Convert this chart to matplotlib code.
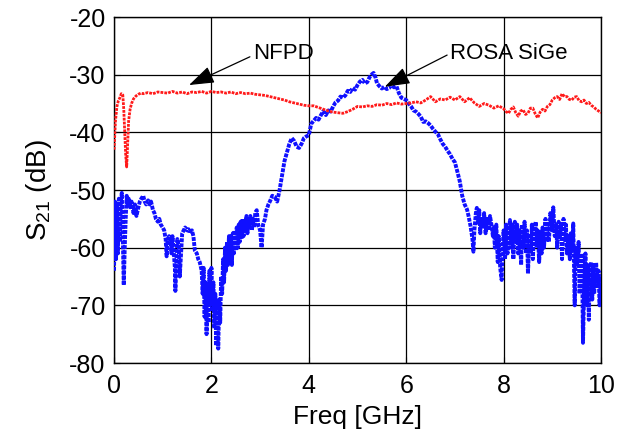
import matplotlib
matplotlib.use("Agg")
import matplotlib.pyplot as plt

plt.rcParams['font.family'] = ['Liberation Sans', 'DejaVu Sans']
plt.rcParams['mathtext.default'] = 'regular'
plt.rcParams['axes.unicode_minus'] = False

# ---- NFPD (red) ----
red_f = [0.00, 0.03, 0.06, 0.09, 0.12, 0.15, 0.18, 0.20, 0.22, 0.24, 0.26, 0.28, 0.30, 0.33, 0.36,
         0.40, 0.45, 0.50, 0.55, 0.60, 0.70, 0.80, 0.90, 1.00, 1.10, 1.20, 1.30, 1.40, 1.50, 1.60,
         1.70, 1.80, 1.90, 2.00, 2.10, 2.20, 2.30, 2.40, 2.50, 2.60, 2.70, 2.80, 2.90, 3.00, 3.10,
         3.20, 3.30, 3.40, 3.50, 3.60, 3.70, 3.80, 3.90, 4.00, 4.10, 4.20, 4.30, 4.40, 4.50, 4.60,
         4.70, 4.80, 4.90, 5.00, 5.10, 5.20, 5.30, 5.40, 5.50, 5.60, 5.70, 5.80, 5.90, 6.00, 6.10,
         6.20, 6.30, 6.40, 6.50, 6.60, 6.70, 6.80, 6.90, 7.00, 7.10, 7.20, 7.30, 7.40, 7.50, 7.60,
         7.70, 7.80, 7.90, 8.00, 8.05, 8.10, 8.15, 8.20, 8.25, 8.30, 8.35, 8.40, 8.45, 8.50, 8.55,
         8.60, 8.65, 8.70, 8.75, 8.80, 8.85, 8.90, 8.95, 9.00, 9.05, 9.10, 9.15, 9.20, 9.25, 9.30,
         9.35, 9.40, 9.45, 9.50, 9.55, 9.60, 9.65, 9.70, 9.75, 9.80, 9.85, 9.90, 9.95, 10.00]
red_db = [-43.0, -38.0, -35.5, -34.5, -34.0, -33.3, -33.5, -36.0, -40.0, -44.0, -46.0, -42.0, -38.0, -36.0, -35.0,
          -34.2, -33.7, -33.4, -33.2, -33.3, -33.1, -33.3, -33.0, -33.1, -33.2, -32.9, -33.2, -33.0, -33.3, -33.0,
          -33.1, -32.9, -33.2, -32.9, -33.1, -33.0, -33.2, -33.0, -33.3, -33.1, -33.3, -33.2, -33.4, -33.5, -33.6,
          -33.8, -34.0, -34.2, -34.4, -34.7, -34.9, -35.1, -35.3, -35.4, -35.4, -35.7, -36.0, -36.3, -36.5, -36.6,
          -36.7, -36.4, -36.0, -35.5, -35.6, -35.4, -35.5, -35.2, -35.3, -35.0, -35.2, -34.9, -35.1, -35.0, -34.9,
          -34.7, -34.9, -34.4, -33.8, -34.7, -34.2, -34.4, -33.9, -34.4, -33.8, -34.7, -34.0, -34.9, -35.5, -35.0,
          -35.3, -35.8, -35.4, -35.9, -36.4, -36.7, -36.0, -35.6, -36.6, -37.2, -36.3, -36.1, -36.9, -36.7, -35.8,
          -35.8, -36.8, -37.5, -36.5, -36.0, -36.3, -35.5, -35.2, -34.4, -34.0, -33.8, -34.3, -33.3, -33.8, -33.8,
          -34.3, -34.4, -33.9, -33.8, -34.5, -34.7, -34.4, -35.0, -34.8, -35.3, -35.6, -36.0, -36.3, -36.6]

# ---- ROSA SiGe (blue) ----
blue_f = [0.00, 0.02, 0.04, 0.06, 0.08, 0.10, 0.12, 0.14, 0.16, 0.18, 0.20, 0.22, 0.24, 0.26, 0.28,
          0.30, 0.33, 0.36, 0.40, 0.43, 0.46, 0.50, 0.53, 0.56, 0.60, 0.63, 0.66, 0.70, 0.73, 0.76,
          0.80, 0.83, 0.86, 0.90, 0.93, 0.96, 1.00, 1.03, 1.06, 1.08, 1.10, 1.13, 1.16, 1.18, 1.20,
          1.22, 1.25, 1.26, 1.28, 1.30, 1.33, 1.35, 1.37, 1.40, 1.43, 1.46, 1.50, 1.53, 1.56, 1.60,
          1.63, 1.66, 1.70, 1.73, 1.76, 1.80, 1.82, 1.84, 1.86, 1.88, 1.90, 1.92, 1.94, 1.96, 1.98,
          2.00, 2.02, 2.04, 2.06, 2.08, 2.10, 2.12, 2.14, 2.16, 2.18, 2.20, 2.22, 2.24, 2.26, 2.28,
          2.30, 2.32, 2.34, 2.36, 2.38, 2.40, 2.42, 2.44, 2.46, 2.48, 2.50, 2.52, 2.54, 2.56, 2.58,
          2.60, 2.62, 2.64, 2.66, 2.68, 2.70, 2.72, 2.74, 2.76, 2.78, 2.80, 2.83, 2.86, 2.88, 2.90,
          2.93, 2.96, 3.00, 3.03, 3.06, 3.10, 3.13, 3.17, 3.20, 3.25, 3.30,
          3.35, 3.40, 3.45, 3.50, 3.55, 3.60, 3.65, 3.70, 3.75, 3.80, 3.85, 3.90, 3.95, 4.00, 4.05,
          4.10, 4.15, 4.20, 4.25, 4.30, 4.35, 4.40, 4.45, 4.50, 4.55, 4.60, 4.65, 4.70, 4.75, 4.80,
          4.85, 4.90, 4.95, 5.00, 5.05, 5.10, 5.15, 5.20, 5.25, 5.30, 5.33, 5.37, 5.40, 5.45, 5.50,
          5.55, 5.60, 5.65, 5.70, 5.75, 5.80, 5.85, 5.90, 5.95, 6.00, 6.05, 6.10, 6.15, 6.20, 6.25,
          6.30, 6.35, 6.40, 6.45, 6.50, 6.55, 6.60, 6.65, 6.70, 6.75, 6.80, 6.85, 6.90, 6.95, 7.00,
          7.05, 7.10, 7.15, 7.20, 7.25, 7.28, 7.32, 7.36, 7.38, 7.40, 7.43, 7.45, 7.48, 7.50, 7.52,
          7.55, 7.58, 7.60, 7.63, 7.66, 7.70, 7.72, 7.75, 7.78, 7.80, 7.82, 7.85, 7.88, 7.90, 7.93,
          7.96, 7.98, 8.00, 8.03, 8.05, 8.08, 8.10, 8.13, 8.16, 8.18, 8.20, 8.23, 8.26, 8.28, 8.30,
          8.33, 8.36, 8.38, 8.40, 8.43, 8.46, 8.48, 8.50, 8.53, 8.56, 8.58, 8.60, 8.63, 8.66, 8.68,
          8.70, 8.73, 8.76, 8.78, 8.80, 8.83, 8.86, 8.88, 8.90, 8.93, 8.96, 9.00, 9.02, 9.05, 9.08,
          9.10, 9.13, 9.16, 9.18, 9.20, 9.23, 9.26, 9.28, 9.30, 9.33, 9.36, 9.38, 9.41, 9.43, 9.46,
          9.48, 9.51, 9.54, 9.56, 9.58, 9.61, 9.63, 9.66, 9.68, 9.71, 9.73, 9.75, 9.77, 9.80, 9.82,
          9.84, 9.86, 9.88, 9.90, 9.93, 9.95, 9.97, 10.00]
blue_db = [-64.0, -52.0, -62.0, -53.0, -61.0, -51.5, -59.0, -52.0, -50.5, -58.0, -66.5, -60.0, -55.0, -51.0, -52.5,
           -51.5, -53.0, -52.0, -54.0, -52.5, -54.5, -53.0, -52.0, -51.5, -51.0, -52.0, -52.5, -51.8, -52.5, -52.0,
           -53.5, -54.0, -55.0, -55.5, -55.0, -56.0, -56.5, -57.0, -58.5, -61.5, -59.0, -58.0, -59.0, -61.0, -58.0,
           -60.0, -63.5, -67.5, -62.0, -58.5, -60.0, -65.0, -62.0, -57.5, -57.0, -56.5, -57.0, -56.8, -57.5, -57.0,
           -58.0, -60.5, -61.0, -62.0, -62.5, -64.0, -68.0, -63.5, -72.0, -66.0, -75.0, -69.0, -73.0, -64.0, -70.0,
           -63.5, -71.0, -66.0, -74.0, -68.0, -77.0, -70.0, -77.5, -69.0, -73.0, -65.0, -68.0, -62.0, -66.0, -60.0,
           -64.0, -59.0, -63.0, -58.0, -62.5, -58.0, -63.0, -57.5, -61.0, -57.0, -60.5, -56.5, -60.0, -56.0, -59.0,
           -55.5, -58.5, -55.0, -58.0, -55.5, -57.0, -54.5, -57.5, -55.0, -56.5, -54.5, -57.0, -55.0, -56.5, -54.0,
           -53.5, -56.0, -57.0, -60.0, -56.0, -55.0, -53.5, -52.5, -52.0, -51.0, -51.2,
           -52.0, -50.0, -47.5, -45.0, -43.5, -42.0, -41.0, -41.5, -42.5, -42.7, -42.0, -41.0, -40.7, -40.5, -38.5,
           -38.0, -37.5, -37.8, -37.0, -36.3, -37.0, -36.2, -36.4, -35.5, -34.8, -34.5, -33.8, -34.0, -33.6, -32.8,
           -33.0, -32.3, -32.6, -31.8, -31.2, -30.9, -31.5, -31.3, -30.4, -29.9, -29.7, -30.5, -31.5, -32.0, -32.4,
           -32.1, -32.5, -32.3, -31.8, -32.2, -32.0, -33.2, -34.0, -34.2, -34.4, -35.0, -35.5, -36.2, -36.4, -36.8,
           -37.3, -38.2, -38.1, -38.4, -38.8, -39.4, -39.9, -40.3, -41.2, -42.0, -42.5, -43.2, -43.8, -44.6, -45.2,
           -46.8, -48.5, -51.0, -52.5, -53.4, -54.5, -56.2, -58.5, -60.7, -57.0, -54.0, -53.1, -56.0, -53.5, -57.5,
           -55.0, -56.5, -54.0, -57.5, -55.0, -57.0, -54.5, -56.0, -58.0, -56.5, -60.0, -56.0, -62.5, -58.0, -63.5,
           -65.6, -60.0, -57.0, -62.0, -56.0, -61.0, -58.0, -55.2, -60.0, -56.0, -62.0, -55.5, -59.0, -56.0, -61.0,
           -57.0, -63.0, -56.0, -60.0, -55.5, -61.0, -57.0, -64.5, -58.0, -61.0, -56.0, -62.0, -57.0, -55.5, -60.0,
           -57.0, -62.5, -57.0, -61.0, -56.5, -60.0, -55.0, -59.0, -55.5, -59.0, -54.0, -57.0, -53.0, -58.0, -56.0,
           -60.0, -55.5, -58.0, -56.0, -62.0, -55.0, -59.0, -56.0, -61.0, -58.0, -62.0, -57.5, -60.5, -55.8, -70.0,
           -60.0, -63.0, -59.0, -68.0, -63.0, -61.0, -76.5, -65.0, -61.0, -70.0, -63.0, -72.5, -64.0, -62.5, -69.0,
           -63.0, -68.0, -64.0, -62.6, -67.0, -64.0, -70.0, -65.0]

xticks = [0, 2, 4, 6, 8, 10]
yticks = [-80, -70, -60, -50, -40, -30, -20]

fig = plt.figure(figsize=(6.18, 4.36), dpi=100)
ax = fig.add_axes([0.1845, 0.1674, 0.7880, 0.7936])

ax.plot(blue_f, blue_db, color='#1010ff', lw=2.8, ls=(0, (1.0, 0.3)), zorder=3)
ax.plot(red_f, red_db, color='#ff1a1a', lw=2.0, ls=(0, (1.0, 0.4)), zorder=4)

ax.set_xlim(0, 10)
ax.set_ylim(-80, -20)
ax.set_xticks(xticks)
ax.set_yticks(yticks)
ax.grid(True, color='black', lw=0.9, ls='-')
ax.set_axisbelow(True)
ax.tick_params(direction='in', labelsize=18, length=4)
ax.tick_params(axis='x', pad=8)
ax.tick_params(axis='y', pad=6)
for s in ax.spines.values():
    s.set_linewidth(1.0)

ax.set_xlabel('Freq [GHz]', fontsize=19, labelpad=5)
ax.set_ylabel('S$_{21}$ (dB)', fontsize=20, labelpad=11)

arrow = dict(arrowstyle='-|>,head_length=1.3,head_width=0.45', color='black', lw=0.9,
             shrinkA=0, shrinkB=0, mutation_scale=12)
ax.annotate('', xy=(1.54, -31.8), xytext=(2.79, -26.9), arrowprops=arrow, zorder=6)
ax.text(2.85, -26.3, 'NFPD', fontsize=16, va='center', ha='left', zorder=6)
ax.annotate('', xy=(5.56, -32.1), xytext=(6.84, -26.6), arrowprops=arrow, zorder=6)
ax.text(6.9, -26.3, 'ROSA SiGe', fontsize=16, va='center', ha='left', zorder=6)

fig.savefig('out.png', dpi=100)
